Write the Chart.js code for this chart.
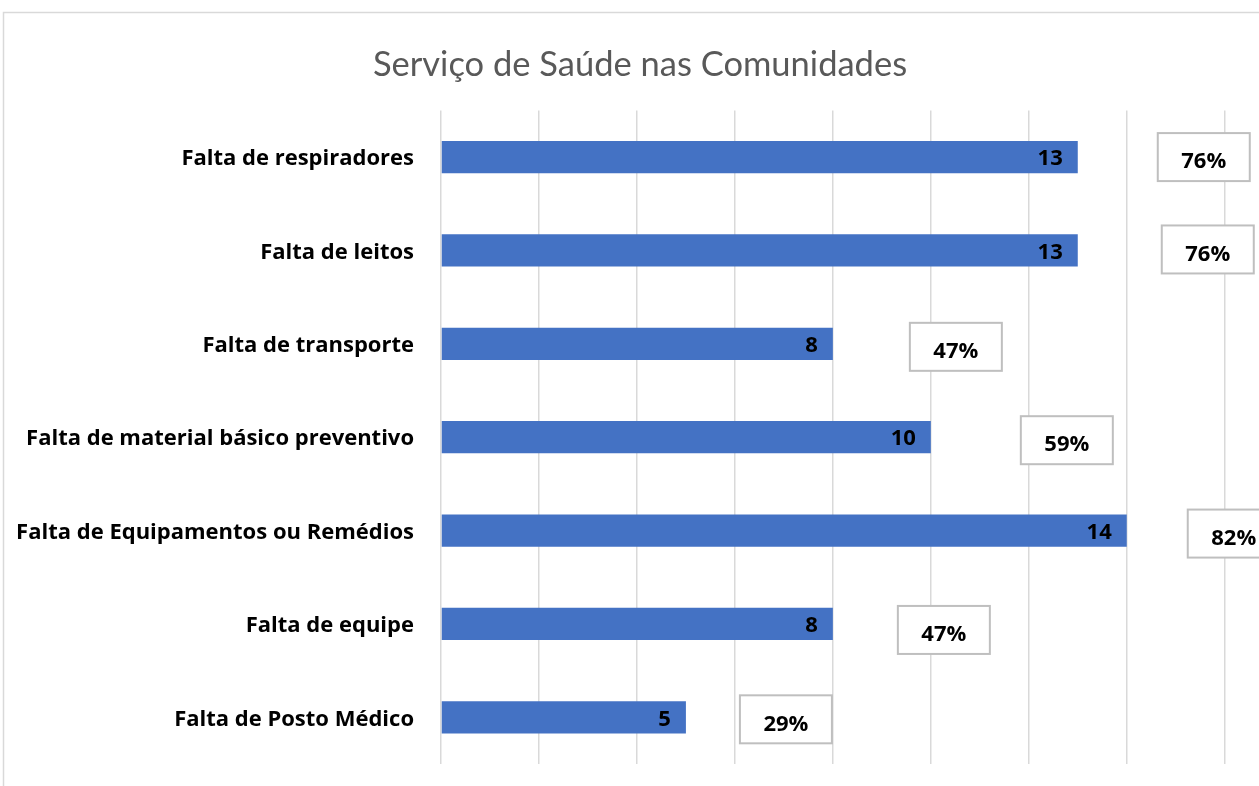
<!DOCTYPE html>
<html>
<head>
<meta charset="utf-8">
<script src="https://cdn.jsdelivr.net/npm/chart.js@4"></script>
<style>
html, body { margin: 0; padding: 0; background: #fff; }
#wrap { width: 1259px; height: 786px; }
</style>
</head>
<body>
<div id="wrap"><canvas id="myChart" width="1259" height="786"></canvas></div>
<script>
// values (17 communities in total)
var categories = [
    'Falta de respiradores',
    'Falta de leitos',
    'Falta de transporte',
    'Falta de material básico preventivo',
    'Falta de Equipamentos ou Remédios',
    'Falta de equipe',
    'Falta de Posto Médico'
];
var counts = [13, 13, 8, 10, 14, 8, 5];
var percents = [76, 76, 47, 59, 82, 47, 29];
var gridTicks = [0, 2, 4, 6, 8, 10, 12, 14, 16];

var labelFont = 'bold 22px "Open Sans"';

// frame line like the Excel chart border, title nudged to the right like the original
var framePlugin = {
    id: 'frame',
    afterLayout: function(chart) {
        if (chart.titleBlock) chart.titleBlock.left = 21;
    },
    beforeDraw: function(chart) {
        var c = chart.ctx;
        c.save();
        c.strokeStyle = '#d9d9d9';
        c.lineWidth = 1.5;
        c.beginPath();
        c.moveTo(3.5, chart.height);
        c.lineTo(3.5, 12.5);
        c.lineTo(chart.width, 12.5);
        c.stroke();
        c.restore();
    }
};

// value inside the bar end + percent box beside it
var labelPlugin = {
    id: 'barLabels',
    afterDatasetsDraw: function(chart, args, opts) {
        var c = chart.ctx;
        var meta = chart.getDatasetMeta(0);
        c.save();
        c.font = labelFont;
        c.textBaseline = 'middle';
        meta.data.forEach(function(bar, i) {
            c.fillStyle = '#000';
            c.textAlign = 'right';
            c.fillText(String(counts[i]), bar.x - 15, bar.y + 2);

            var bx = bar.x + opts.gaps[i];
            var by = bar.y + opts.drops[i] - 24;
            c.fillStyle = '#fff';
            c.fillRect(bx, by, 92, 48);
            c.strokeStyle = '#bfbfbf';
            c.lineWidth = 2;
            c.strokeRect(bx, by, 92, 48);
            c.fillStyle = '#000';
            c.textAlign = 'center';
            c.fillText(percents[i] + '%', bx + 46, by + 29);
        });
        c.restore();
    }
};

var ctx = document.getElementById('myChart').getContext('2d');
var myChart = new Chart(ctx, {
    type: 'bar',
    data: {
        labels: categories,
        datasets: [{
            data: counts,
            backgroundColor: '#4472c4',
            barPercentage: 0.345,
            categoryPercentage: 1
        }]
    },
    plugins: [framePlugin, labelPlugin],
    options: {
        indexAxis: 'y',
        responsive: false,
        animation: false,
        layout: { padding: { left: 0, right: 0, top: 0, bottom: 22 } },
        plugins: {
            legend: { display: false },
            tooltip: { enabled: false },
            title: {
                display: true,
                text: 'Serviço de Saúde nas Comunidades',
                color: '#595959',
                font: { family: 'Lato', size: 34.5, weight: 'normal' },
                padding: { top: 44, bottom: 25 }
            },
            barLabels: {
                gaps: [80, 84, 77, 90, 61, 65, 54],
                drops: [0, -1, 3, 3, 3, 6, 2]
            }
        },
        scales: {
            x: {
                min: 0,
                max: 16.7,
                ticks: { display: false },
                border: { display: false },
                grid: { drawTicks: false, lineWidth: 1.5, color: '#d9d9d9' },
                afterBuildTicks: function(scale) {
                    scale.ticks = gridTicks.map(function(v) { return { value: v }; });
                },
                afterFit: function(scale) { scale.height = 0; }
            },
            y: {
                grid: { display: false, drawTicks: false },
                border: { display: false },
                ticks: {
                    color: '#000',
                    padding: 27,
                    labelOffset: 2,
                    font: { family: 'Open Sans', size: 22, weight: 'bold' }
                },
                afterFit: function(scale) {
                    scale.width = 441;
                    scale.paddingTop = 0;
                    scale.paddingBottom = 0;
                }
            }
        }
    }
});
</script>
</body>
</html>
